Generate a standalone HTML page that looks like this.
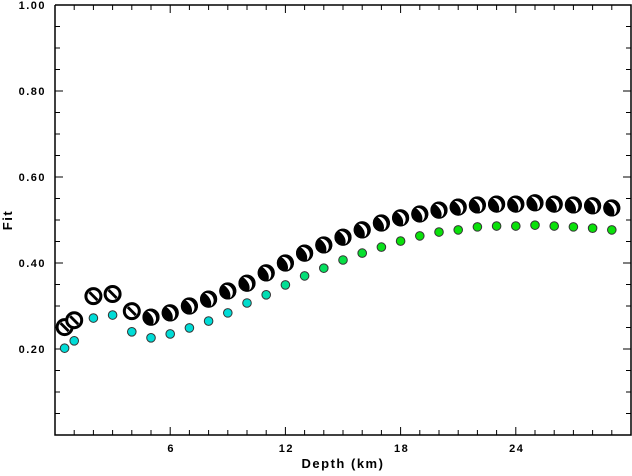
<!DOCTYPE html>
<html><head><meta charset="utf-8"><style>
body{margin:0;background:#fff}
svg text{font-family:"Liberation Sans",sans-serif;font-weight:bold;font-size:11px;letter-spacing:1.5px}
svg text.title{font-size:13px}
</style></head><body>
<svg id="c" width="632" height="471" xmlns="http://www.w3.org/2000/svg"></svg>
<script>
const depths=[0.5,1,2,3,4,5,6,7,8,9,10,11,12,13,14,15,16,17,18,19,20,21,22,23,24,25,26,27,28,29];
const mechFit=[0.251,0.267,0.323,0.328,0.288,0.274,0.284,0.300,0.316,0.335,0.353,0.377,0.400,0.423,0.442,0.460,0.477,0.493,0.505,0.514,0.523,0.530,0.535,0.537,0.537,0.540,0.537,0.535,0.533,0.528];
const dotFit=[0.202,0.219,0.272,0.279,0.240,0.226,0.235,0.249,0.265,0.284,0.307,0.326,0.349,0.370,0.388,0.407,0.423,0.437,0.451,0.463,0.472,0.477,0.484,0.486,0.486,0.488,0.486,0.484,0.481,0.477];
const xTicks=[6,12,18,24];
const yTicks=[0.20,0.40,0.60,0.80,1.00];
const X0=55,X1=631,Y0=435,Y1=5;
const sx=d=>X0+(d/30)*(X1-X0);
const sy=v=>Y0-(v/1.0)*(Y0-Y1);
const svg=document.getElementById('c');const NS='http://www.w3.org/2000/svg';
function mk(t,a,p){const e=document.createElementNS(NS,t);for(const k in a)e.setAttribute(k,a[k]);(p||svg).appendChild(e);return e;}
let e;
e=mk('path',{d:`M${X0} ${Y1}V${Y0}H${X1}V${Y1}H${X0}`,fill:'none',stroke:'#000','stroke-width':1.5});


for(let d=1;d<30;d++){const L=d%6==0?8:5;
 e=mk('line',{x1:sx(d),x2:sx(d),y1:Y0,y2:Y0-L,stroke:'#000'});
 
 
 e=mk('line',{x1:sx(d),x2:sx(d),y1:Y1,y2:Y1+L,stroke:'#000'});
 
 }
for(let i=1;i<20;i++){const v=i*0.05;const L=i%4==0?8:5;
 e=mk('line',{x1:X0,x2:X0+L,y1:sy(v),y2:sy(v),stroke:'#000'});
 
 
 e=mk('line',{x1:X1,x2:X1-L,y1:sy(v),y2:sy(v),stroke:'#000'});
 
 }
xTicks.forEach(d=>{e=mk('text',{x:sx(d)+1,y:452,'text-anchor':'middle'});e.textContent=d;
 
 });
yTicks.forEach(v=>{e=mk('text',{x:46,y:sy(v)+4,'text-anchor':'end'});e.textContent=v.toFixed(2);
 
 });
e=mk('text',{x:343,y:468,'text-anchor':'middle','class':'title'});e.textContent='Depth (km)';


e=mk('text',{x:12,y:220,'text-anchor':'middle','class':'title',transform:'rotate(-90 12 220)'});e.textContent='Fit';


depths.forEach((d,i)=>{const v=dotFit[i];let t=Math.min(1,Math.max(0,(v-0.30)/0.15));
 const col=`rgb(${Math.round(10*t)},${Math.round(220+5*t)},${Math.round(215*(1-t)+10*t)})`;
 e=mk('circle',{cx:sx(d),cy:sy(v),r:4.3,fill:col,stroke:'#333','stroke-width':1});
 
 });
depths.forEach((d,i)=>{const cx=sx(d),cy=sy(mechFit[i]);const g=mk('g',{});
 
 
 if(d<=4){mk('circle',{cx,cy,r:7.5,fill:'#fff',stroke:'#000','stroke-width':3},g);
  mk('path',{d:`M${cx-5} ${cy+3}L${cx+3} ${cy-5}L${cx+5} ${cy-3}L${cx-3} ${cy+5}Z`,fill:'#000',transform:`rotate(90 ${cx} ${cy})`},g);}
 else{mk('circle',{cx,cy,r:8,fill:'#000',stroke:'#333','stroke-width':1},g);
  mk('path',{d:`M${cx+1} ${cy-7}A7.5 7.5 0 0 1 ${cx-3} ${cy+7}Q${cx+3} ${cy+3} ${cx+1} ${cy-7}Z`,fill:'#fff',transform:`rotate(-40 ${cx} ${cy})`},g);
  mk('circle',{cx,cy,r:8,fill:'none',stroke:'#000','stroke-width':1.2},g);}
});
</script>
</body></html>
